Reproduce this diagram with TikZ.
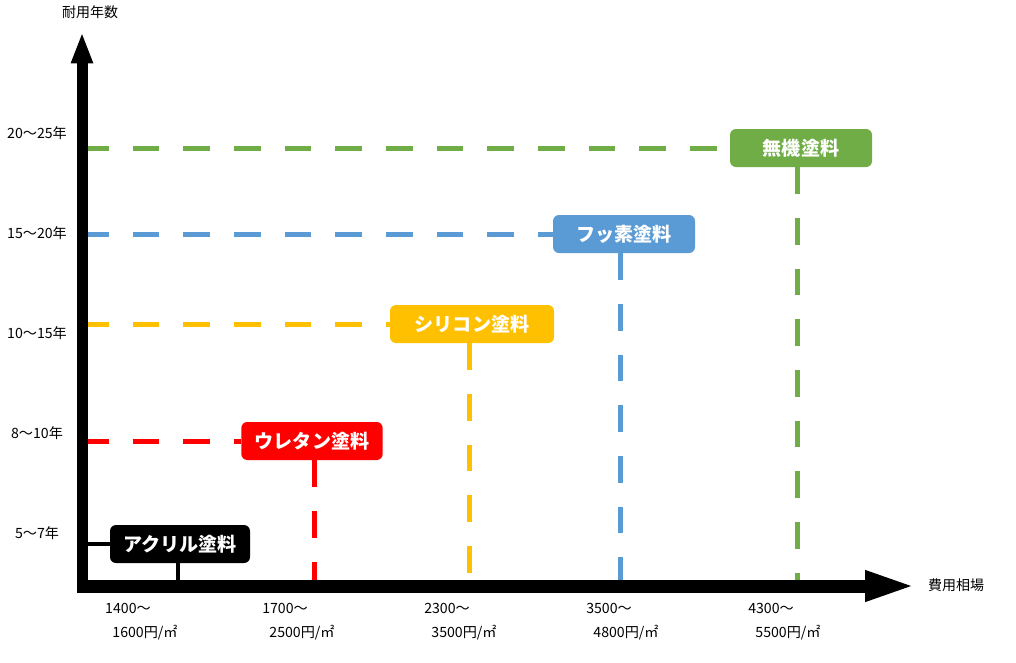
\documentclass[tikz,border=0pt]{standalone}
\usepackage{fontspec}
\setmainfont{Noto Sans CJK JP}
\usepackage{xcolor}
\usetikzlibrary{arrows.meta}

\definecolor{acryl}{HTML}{000000}
\definecolor{ureth}{HTML}{FF0000}
\definecolor{silic}{HTML}{FFC000}
\definecolor{fluor}{HTML}{5B9BD5}
\definecolor{inorg}{HTML}{70AD47}

\begin{document}
\begin{tikzpicture}[
  x=0.75pt, y=-0.75pt,
  every node/.style={inner sep=2pt},
  tick/.style={font=\fontsize{10.6pt}{12pt}\selectfont},
  axlab/.style={font=\fontsize{10.5pt}{12pt}\selectfont},
  paint/.style={rounded corners=4.5pt, minimum height=28.5pt, text=white, font=\bfseries\fontsize{14.3pt}{16pt}\selectfont},
  guide/.style={line width=3.75pt, dash pattern=on 20pt off 18pt},
  yaxis/.style={line width=8.25pt, -{Triangle[length=23.5pt, width=15pt]}},
  xaxis/.style={line width=9.75pt, -{Triangle[length=39pt, width=20.5pt]}}
]
\useasboundingbox (0,0) rectangle (1016,662);

% --- axis corners ---
\coordinate (O) at (82,586);
\coordinate (ytop) at (82,32);
\coordinate (ybot) at (82,591);
\coordinate (xleft) at (77,586);
\coordinate (xtip) at (917,586);

% --- paint labels ---
\node[paint, fill=acryl, minimum width=105pt]   (acr) at (180,544) {アクリル塗料};
\node[paint, fill=ureth, minimum width=106pt]   (ure) at (312,441) {ウレタン塗料};
\node[paint, fill=silic, minimum width=123pt]   (sil) at (472,324) {シリコン塗料};
\node[paint, fill=fluor, minimum width=106.5pt] (flu) at (624,234) {フッ素塗料};
\node[paint, fill=inorg, minimum width=106.5pt] (ino) at (801,148) {無機塗料};

% --- guide lines to the axes ---
\draw[acryl, line width=3pt] (acr.west -| O) -- (acr.west);
\draw[acryl, line width=3pt] ([xshift=-1.5pt]acr.south) -- ([xshift=-1.5pt]acr.south |- O);
\foreach \n/\c/\dx in {ure/ureth/1.5pt,sil/silic/-2.25pt,flu/fluor/-3pt,ino/inorg/-3pt} {
  \draw[guide, \c] (\n.west -| O) -- (\n.west);
  \draw[guide, \c] ([xshift=\dx]\n.south) -- ([xshift=\dx]\n.south |- O);
}

% --- axes ---
\draw[yaxis] (ybot) -- (ytop);
\draw[xaxis] (xleft) -- (xtip);
\node[axlab] (ylab) at (90,12) {耐用年数};
\node[axlab] (xlab) at (956,585) {費用相場};

% --- tick labels ---
\foreach \lab/\y in {20〜25年/133,15〜20年/233,10〜15年/333,8〜10年/433,5〜7年/533} {
  \node[tick] (yt\y) at (37,\y) {\lab};
}
\foreach \lo/\hi/\x in {1400/1600/128,1700/2500/285,2300/3500/447,3500/4800/609,4300/5500/771} {
  \node[tick] (xa\x) at (\x,608) {{\lo}〜};
  \node[tick] (xb\x) at (\x+17,633) {{\hi}円/㎡};
}

\end{tikzpicture}
\end{document}
